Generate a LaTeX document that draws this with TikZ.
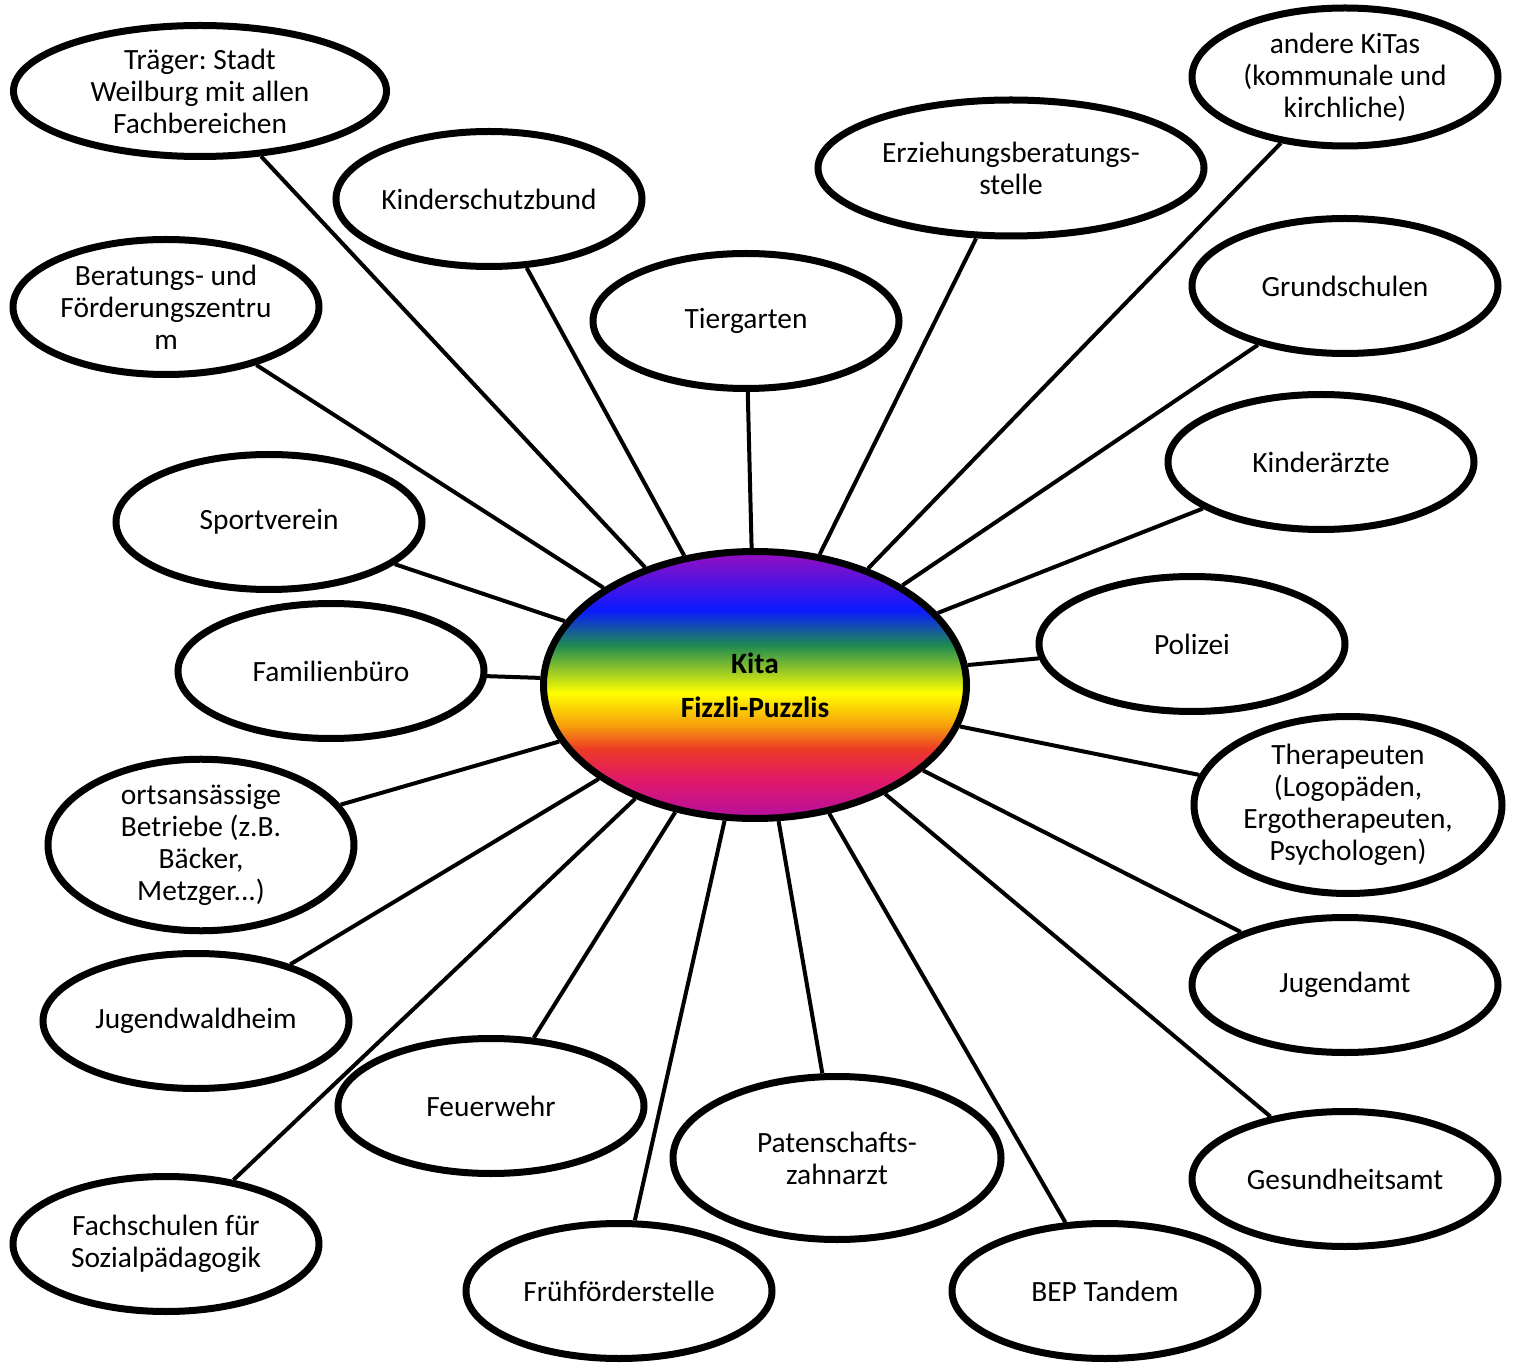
\documentclass[tikz,border=0pt]{standalone}
\usepackage{fontspec}
\setmainfont{Carlito}
\usepackage{tikz}
\usetikzlibrary{shapes.geometric, shadows}
\frenchspacing
\definecolor{rbpurple}{HTML}{9A0DBF}
\definecolor{rbblue}{HTML}{0A1AFF}
\definecolor{rbgreen}{HTML}{1E8A52}
\definecolor{rbyellow}{HTML}{FFFF00}
\definecolor{rborange}{HTML}{F6A00C}
\definecolor{rbred}{HTML}{EC3A26}
\definecolor{rbpink}{HTML}{E21A66}
\definecolor{rbviolet}{HTML}{B40EA2}
\pgfdeclareverticalshading{rainbow}{100bp}{color(0bp)=(rbviolet); color(25bp)=(rbviolet); color(32.5bp)=(rbpink); color(38bp)=(rbred); color(42.5bp)=(rborange); color(48.5bp)=(rbyellow); color(57.5bp)=(rbgreen); color(64bp)=(rbblue); color(75bp)=(rbpurple); color(100bp)=(rbpurple)}
\tikzstyle{partner} = [ellipse, draw, line width=3.5pt, fill=white, align=center, inner sep=0pt, font=\fontsize{14.7}{16}\selectfont, minimum width=153pt, minimum height=67.5pt, drop shadow={opacity=0.18, shadow xshift=0.6pt, shadow yshift=-1.6pt}]
\tikzstyle{kita} = [partner, shading=rainbow, minimum width=211.5pt, minimum height=133.5pt, font=\fontsize{14.7}{16}\selectfont\bfseries]
\tikzstyle{link} = [line width=2pt]

\begin{document}
\begin{tikzpicture}[x=0.5pt, y=-0.5pt]
  \useasboundingbox (0,0) rectangle (1516,1363);

  % Zentrum
  \node[kita] (kita) at (755,685) {Kita\\[6pt]Fizzli-Puzzlis};

  % Partner oben und links
  \node[partner, minimum width=186.5pt, minimum height=65.5pt] (traeger) at (200,91) {Träger: Stadt\\Weilburg mit allen\\Fachbereichen};
  \node[partner] (schutzbund) at (489,199) {Kinderschutzbund};
  \node[partner] (beratung) at (166,307) {Beratungs- und\\Förderungszentru\\m};
  \node[partner] (tiergarten) at (746,321) {Tiergarten};
  \node[partner, minimum width=193pt, minimum height=68pt] (erziehung) at (1011,168) {Erziehungsberatungs-\\stelle};
  \node[partner] (sport) at (269,522) {Sportverein};
  \node[partner] (familie) at (331,671) {Familienbüro};
  \node[partner, minimum height=81.5pt] (betriebe) at (201,845) {ortsansässige\\Betriebe (z.B.\\Bäcker,\\Metzger...)};
  \node[partner] (wald) at (196,1021) {Jugendwaldheim};
  \node[partner] (fachschule) at (166,1244) {Fachschulen für\\Sozialpädagogik};

  % Partner rechts
  \node[partner, minimum height=69pt] (kitas) at (1345,77) {andere KiTas\\(kommunale und\\kirchliche)};
  \node[partner] (grundschule) at (1345,286) {Grundschulen};
  \node[partner] (aerzte) at (1321,462) {Kinderärzte};
  \node[partner] (polizei) at (1192,644) {Polizei};
  \node[partner, minimum width=154pt, minimum height=88.5pt] (therapie) at (1348,805) {Therapeuten\\(Logopäden,\\Ergotherapeuten,\\Psychologen)};
  \node[partner] (jugendamt) at (1345,985) {Jugendamt};
  \node[partner] (gesundheit) at (1345,1179) {Gesundheitsamt};

  % Partner unten
  \node[partner] (tandem) at (1105,1291) {BEP Tandem};
  \node[partner, minimum width=164pt, minimum height=81.5pt] (zahnarzt) at (837,1158) {Patenschafts-\\zahnarzt};
  \node[partner] (frueh) at (619,1291) {Frühförderstelle};
  \node[partner] (feuerwehr) at (491,1106) {Feuerwehr};

  % Verbindungen
  \foreach \p in {traeger, schutzbund, beratung, tiergarten, erziehung, sport, familie, betriebe, wald, fachschule, kitas, grundschule, aerzte, polizei, therapie, jugendamt, gesundheit, tandem, zahnarzt, frueh, feuerwehr}
    \draw[link] (kita) -- (\p);
\end{tikzpicture}
\end{document}
